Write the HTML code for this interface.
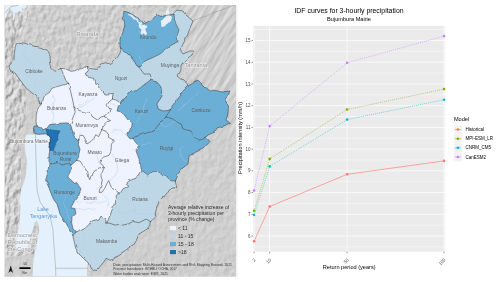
<!DOCTYPE html>
<html lang="en"><head><meta charset="utf-8"><title>IDF curves for 3-hourly precipitation - Bujumbura Mairie</title>
<style>
html,body{margin:0;padding:0;background:#fff;}
body{width:500px;height:282px;overflow:hidden;font-family:"Liberation Sans",sans-serif;}
svg{display:block;will-change:transform;opacity:.9999}
text{font-family:"Liberation Sans",sans-serif}
.pl{font-size:4.85px;fill:#5f5f5f;text-anchor:middle}
.cl{font-size:6.1px;fill:#8f8f8f;stroke:#fff;stroke-width:.9px;paint-order:stroke;stroke-linejoin:round;stroke-opacity:.8}
.ll{font-size:5.4px;fill:#5a9be6;text-anchor:middle}
.lg{font-size:5.05px;fill:#2e2e2e}
.ct{font-size:3.4px;fill:#333}
.ax{font-size:4.5px;fill:#4d4d4d}
.at{font-size:5.6px;fill:#000}
</style></head><body>
<svg width="500" height="282" viewBox="0 0 500 282">
<defs>
<filter id="hs" x="0" y="0" width="100%" height="100%" color-interpolation-filters="sRGB">
<feTurbulence type="fractalNoise" baseFrequency="0.18 0.14" numOctaves="3" seed="7" result="n"/>
<feDiffuseLighting in="n" surfaceScale="0.32" diffuseConstant="1.0" lighting-color="#ececec" result="l"><feDistantLight azimuth="225" elevation="61"/></feDiffuseLighting>
</filter>
<filter id="hsn" x="0" y="0" width="100%" height="100%" color-interpolation-filters="sRGB">
<feTurbulence type="fractalNoise" baseFrequency="0.2 0.16" numOctaves="3" seed="11" result="n"/>
<feDiffuseLighting in="n" surfaceScale="0.62" diffuseConstant="1.0" lighting-color="#ebebeb" result="l"><feDistantLight azimuth="225" elevation="61"/></feDiffuseLighting>
</filter>
<filter id="hs2" x="0" y="0" width="100%" height="100%" color-interpolation-filters="sRGB">
<feTurbulence type="fractalNoise" baseFrequency="0.24 0.13" numOctaves="3" seed="3" result="n"/>
<feDiffuseLighting in="n" surfaceScale="1.35" diffuseConstant="1.0" lighting-color="#ececec" result="l"><feDistantLight azimuth="225" elevation="61"/></feDiffuseLighting>
</filter>
<filter id="hse" x="0" y="0" width="100%" height="100%" color-interpolation-filters="sRGB">
<feTurbulence type="fractalNoise" baseFrequency="0.035 0.2" numOctaves="3" seed="5" result="n"/>
<feDiffuseLighting in="n" surfaceScale="0.55" diffuseConstant="1.0" lighting-color="#ededed" result="l"><feDistantLight azimuth="270" elevation="61"/></feDiffuseLighting>
</filter>
<clipPath id="east"><polygon points="172,4 237,4 237,135 222,140 205,138 200,90 178,60"/></clipPath>
<filter id="jit" x="-5%" y="-5%" width="110%" height="110%" color-interpolation-filters="sRGB">
<feTurbulence type="fractalNoise" baseFrequency="0.11" numOctaves="2" seed="21" result="t"/>
<feDisplacementMap in="SourceGraphic" in2="t" scale="3.2" xChannelSelector="R" yChannelSelector="G"/>
</filter>
<clipPath id="mapclip"><rect x="4.7" y="4.9" width="231.4" height="271.6"/></clipPath>
<clipPath id="west"><polygon points="5,5 30,5 24,30 18,44 12,66 26,90 27,110 24,126 21,134 21,190 19,225 15,246 26,251 36,222 40,232 34,254 5,258"/></clipPath>
<clipPath id="north"><polygon points="24,4 180,4 175,8 122,8 118,52 86,72 60,72 48,48 18,42"/></clipPath>
</defs>
<rect width="500" height="282" fill="#fff"/>
<g clip-path="url(#mapclip)">
<rect x="4" y="4" width="233" height="273" fill="#c9c9c9"/>
<rect x="4" y="4" width="233" height="273" filter="url(#hs)"/>
<g clip-path="url(#east)"><rect x="-200" y="-200" width="800" height="800" filter="url(#hse)" transform="rotate(-58 120 140)"/></g>
<g clip-path="url(#north)"><rect x="4" y="4" width="233" height="273" filter="url(#hsn)"/></g>
<g clip-path="url(#west)"><rect x="4" y="4" width="233" height="273" filter="url(#hs2)"/></g>

<polygon points="5,5 27,5 25.5,8 22,8.5 22,12 19.5,11 17,13 15,12.5 15,16 13.5,20.5 12.5,19 13.5,14 12,10 10,8 8,12 6,17 5,19.5" fill="#e2f0fd"/>
<polyline points="5,13 8,9.5 11,6.5 15,5.8 18.5,5.2" fill="none" stroke="#777" stroke-width=".4"/>
<polygon points="26.0,135.2 27.0,134.5 50.0,134.5 50.0,165.0 75.0,235.0 76.0,248.0 88.0,263.0 87.0,268.3 87.0,276.5 32.6,276.5 33.0,268.0 33.5,260.0 35.0,252.0 36.1,248.0 37.3,242.0 38.5,236.0 39.1,230.0 38.5,224.0 36.3,220.8 34.3,224.0 32.5,230.0 30.7,236.0 29.5,242.0 28.3,248.0 26.0,250.3 21.0,250.5 17.0,249.5 15.2,246.0 16.0,241.0 17.0,236.0 18.0,231.0 19.3,225.0 19.9,218.0 20.5,210.0 20.0,200.0 21.0,190.0 24.0,182.0 26.0,175.0 27.0,160.0 25.0,150.0 24.5,142.0" fill="#e4f1fd"/>
<polyline points="36,126 35.5,140 36,160 37,190 40,202 50,216 53,230 54,246 55.6,268.3 88,268.3" fill="none" stroke="#8c8c8c" stroke-width=".45"/>
<polyline points="55.6,268.3 55.8,276" fill="none" stroke="#8c8c8c" stroke-width=".45"/>
<polyline points="193,21 200,18 207,16 213,12.5 222,10 229,7 236,5" fill="none" stroke="#8c8c8c" stroke-width=".4"/>
<polyline points="16,44 14,38 16,32 13,27 13.5,20.5" fill="none" stroke="#8c8c8c" stroke-width=".4"/>
<g filter="url(#jit)">
<polygon points="60.8,68.3 57.5,70.3 54.8,71.3 51.8,68.3 50.4,62.0 50.0,56.0 47.0,50.0 40.0,47.0 32.0,46.0 26.0,43.6 20.0,42.4 16.0,44.0 14.4,52.0 14.0,60.0 9.0,66.0 10.0,70.0 15.0,73.0 20.0,80.0 26.0,88.0 32.0,93.0 36.0,95.7 38.5,100.0 39.7,104.0 42.5,104.8 43.4,98.0 45.2,95.0 49.4,92.6 51.8,88.4 55.4,87.0 58.4,86.3 64.5,84.5 68.7,83.3 65.7,80.3 63.9,75.5 62.0,70.7" fill="#bdd7e7"/>
<polygon points="68.7,83.3 69.9,89.0 71.0,93.0 73.5,104.0 74.0,107.0 75.2,112.2 72.2,119.5 70.5,124.5 67.8,122.9 58.0,123.4 49.7,124.6 46.0,129.4 42.5,131.0 39.4,127.6 37.0,125.8 36.0,121.0 36.3,116.0 37.3,111.3 38.5,107.0 41.0,104.7 42.5,104.8 43.4,98.0 45.2,95.0 49.4,92.6 51.8,88.4 55.4,87.0 58.4,86.3 64.5,84.5" fill="#eff3ff"/>
<polygon points="60.8,68.3 65.7,68.9 71.0,71.3 74.5,70.8 77.7,69.5 81.5,68.8 85.0,67.0 88.6,67.7 88.0,71.3 85.5,73.0 86.1,75.5 89.8,76.7 93.4,77.3 95.2,82.7 98.2,84.0 99.6,86.0 100.0,88.5 104.0,92.0 105.0,94.0 110.0,93.8 113.5,93.5 112.5,96.0 112.5,99.0 109.0,102.0 107.0,105.0 109.0,108.0 110.5,110.0 108.5,113.0 105.4,116.1 101.0,117.0 97.5,120.0 92.7,117.0 89.0,111.6 85.5,112.2 78.9,110.4 74.0,107.0 73.5,104.0 71.0,93.0 69.9,89.0 68.7,83.3 65.7,80.3 63.9,75.5 62.0,70.7" fill="#eff3ff"/>
<polygon points="88.6,67.7 92.2,68.9 95.8,69.5 98.8,67.0 100.6,64.0 105.4,62.8 110.0,63.8 114.0,61.0 117.0,58.0 119.5,54.0 121.0,51.0 120.5,49.0 125.0,51.5 130.0,56.0 134.0,61.0 137.0,66.0 139.0,67.0 144.0,74.0 150.0,74.0 151.0,77.0 149.5,81.0 145.0,84.0 140.0,88.0 137.0,90.5 132.0,91.5 128.0,94.0 125.5,98.0 122.0,100.0 120.0,103.5 119.0,102.0 116.0,100.0 112.5,99.0 112.5,96.0 113.5,93.5 110.0,93.8 105.0,94.0 104.0,92.0 100.0,88.5 99.6,86.0 98.2,84.0 95.2,82.7 93.4,77.3 89.8,76.7 86.1,75.5 85.5,73.0 88.0,71.3" fill="#bdd7e7"/>
<polygon points="120.5,49.0 120.0,47.0 120.0,39.0 123.0,32.0 125.0,26.0 123.0,17.0 124.0,11.0 130.0,13.0 138.0,18.0 145.0,24.0 153.0,19.0 157.0,14.0 163.0,16.0 174.0,14.0 175.0,22.0 179.0,30.0 177.0,36.0 178.0,41.5 170.0,46.0 160.0,54.0 152.0,58.0 145.0,61.0 139.0,67.0 137.0,66.0 134.0,61.0 130.0,56.0 125.0,51.5" fill="#6baed6"/>
<polygon points="174.0,14.0 177.0,10.0 183.0,11.0 186.0,15.0 193.0,21.0 190.0,28.0 187.0,36.0 183.0,44.0 180.0,50.0 183.0,54.0 190.0,51.0 193.0,51.0 192.0,55.0 185.0,60.0 181.0,65.0 181.0,70.0 178.0,76.0 183.0,80.0 188.0,86.0 183.0,91.0 180.0,96.0 175.0,103.0 170.5,109.5 168.0,110.3 163.0,111.0 158.4,109.0 156.8,104.0 159.5,100.0 162.0,96.0 161.0,87.0 157.0,82.0 152.0,80.5 149.5,81.0 151.0,77.0 150.0,74.0 144.0,74.0 139.0,67.0 145.0,61.0 152.0,58.0 160.0,54.0 170.0,46.0 178.0,41.5 177.0,36.0 179.0,30.0 175.0,22.0" fill="#bdd7e7"/>
<polygon points="120.0,103.5 122.0,100.0 125.5,98.0 128.0,94.0 132.0,91.5 137.0,90.5 140.0,88.0 145.0,84.0 149.5,81.0 152.0,80.5 157.0,82.0 161.0,87.0 162.0,96.0 159.5,100.0 156.8,104.0 158.4,109.0 163.0,111.0 168.0,110.3 170.5,109.5 168.0,113.5 166.0,117.0 160.0,123.0 155.0,129.2 149.0,132.2 143.0,134.0 134.8,137.0 133.0,138.3 130.0,138.9 127.0,135.2 130.0,129.8 131.0,125.0 131.0,123.0 128.0,120.0 122.0,112.0 117.0,111.0 118.0,107.0" fill="#6baed6"/>
<polygon points="188.0,86.0 198.0,80.0 204.0,86.0 210.0,91.0 214.0,90.0 222.0,92.0 230.0,91.0 225.0,100.0 228.5,106.0 228.0,114.0 226.0,120.0 230.0,123.0 224.0,126.0 217.0,128.0 215.0,132.0 208.0,135.0 205.0,138.0 199.0,140.0 194.0,136.0 191.0,131.0 183.0,129.0 181.0,123.0 173.0,119.0 166.0,117.0 168.0,113.5 170.5,109.5 175.0,103.0 180.0,96.0 183.0,91.0" fill="#6baed6"/>
<polygon points="166.0,117.0 173.0,119.0 181.0,123.0 183.0,129.0 191.0,131.0 194.0,136.0 199.0,140.0 205.0,138.0 209.0,142.5 204.0,148.0 196.0,152.0 189.0,156.0 188.0,164.0 183.0,168.0 180.0,169.6 177.8,174.5 175.4,180.0 171.8,181.0 168.2,179.3 165.8,176.3 161.6,175.7 159.0,172.6 156.0,171.4 151.3,172.0 147.7,175.0 144.0,172.0 141.0,170.5 141.0,169.0 140.5,163.0 139.0,159.0 137.8,155.7 136.0,150.9 137.2,148.5 138.4,145.5 136.6,143.7 133.6,139.5 133.0,138.3 134.8,137.0 143.0,134.0 149.0,132.2 155.0,129.2 160.0,123.0" fill="#6baed6"/>
<polygon points="112.5,99.0 116.0,100.0 119.0,102.0 120.0,103.5 118.0,107.0 117.0,111.0 122.0,112.0 128.0,120.0 131.0,123.0 131.0,125.0 130.0,129.8 127.0,135.2 130.0,138.9 133.0,138.3 133.6,139.5 136.6,143.7 138.4,145.5 137.2,148.5 136.0,150.9 137.8,155.7 139.0,159.0 140.5,163.0 141.0,169.0 141.0,170.5 138.3,175.0 135.8,178.4 132.3,179.4 128.4,181.4 125.4,184.4 127.9,186.4 122.9,188.9 120.9,192.3 119.9,194.3 118.4,192.8 116.0,190.4 111.0,187.9 110.0,184.5 108.8,180.6 107.5,182.4 105.0,187.8 102.0,192.2 98.8,192.5 99.6,190.0 101.2,185.0 102.4,179.0 101.8,173.1 104.2,167.7 102.4,165.2 100.0,162.2 100.5,160.1 103.6,157.1 109.0,155.3 110.8,151.7 111.4,145.7 113.2,142.0 112.6,139.6 108.4,137.2 109.0,134.2 106.0,130.3 101.7,128.5 103.6,124.9 106.6,121.9 110.5,120.7 107.2,118.9 105.4,116.1 108.5,113.0 110.5,110.0 109.0,108.0 107.0,105.0 109.0,102.0" fill="#eff3ff"/>
<polygon points="74.0,107.0 78.9,110.4 85.5,112.2 89.0,111.6 92.7,117.0 97.5,120.0 101.0,117.0 105.4,116.1 107.2,118.9 110.5,120.7 106.6,121.9 103.6,124.9 101.7,128.5 100.5,132.4 98.7,136.6 95.7,134.8 93.9,138.4 90.9,141.4 87.3,143.9 85.5,139.6 83.1,135.4 78.9,135.4 78.9,139.6 77.0,140.2 73.4,134.8 72.2,130.0 70.5,124.5 72.2,119.5 75.2,112.2" fill="#eff3ff"/>
<polygon points="78.9,139.6 78.9,135.4 83.1,135.4 85.5,139.6 87.3,143.9 90.9,141.4 93.9,138.4 95.7,134.8 98.7,136.6 100.5,132.4 101.7,128.5 106.0,130.3 109.0,134.2 108.4,137.2 112.6,139.6 113.2,142.0 111.4,145.7 110.8,151.7 109.0,155.3 103.6,157.1 100.5,160.1 100.0,162.2 102.4,165.2 104.2,167.7 100.0,167.7 95.1,169.5 92.1,173.1 89.7,179.7 88.5,176.7 87.9,172.5 86.7,168.9 83.1,165.8 80.0,161.0 76.4,160.4 78.3,157.7 78.9,154.1 80.0,149.3 78.3,144.5" fill="#eff3ff"/>
<polygon points="70.5,124.5 67.8,122.9 58.0,123.4 49.7,124.6 46.0,129.4 42.5,131.0 39.4,127.6 37.0,125.8 34.0,126.4 33.4,128.8 34.0,133.0 37.6,134.3 46.0,133.7 48.5,136.0 50.3,139.7 50.3,145.7 49.7,150.5 49.0,156.0 49.0,163.0 52.0,164.0 58.0,162.4 62.0,165.0 67.0,163.5 71.0,165.0 73.4,163.4 76.4,160.4 78.3,157.7 78.9,154.1 80.0,149.3 78.3,144.5 78.9,139.6 77.0,140.2 73.4,134.8 72.2,130.0" fill="#6baed6"/>
<polygon points="49.0,163.0 52.0,164.0 58.0,162.4 62.0,165.0 67.0,163.5 71.0,165.0 70.4,168.3 68.6,173.1 68.0,177.3 72.2,180.9 74.0,183.3 77.0,182.7 79.5,186.9 81.0,189.0 78.5,195.0 75.0,200.0 71.5,206.5 70.7,207.8 75.0,208.5 75.8,213.0 72.0,216.5 71.7,223.0 73.1,229.0 75.0,233.0 73.0,235.5 71.0,233.0 66.0,224.0 60.0,214.0 57.0,204.0 54.0,200.0 52.0,196.0 49.0,188.0 45.6,180.0 48.0,172.0" fill="#6baed6"/>
<polygon points="76.4,160.4 80.0,161.0 83.1,165.8 86.7,168.9 87.9,172.5 88.5,176.7 89.7,179.7 92.1,173.1 95.1,169.5 100.0,167.7 104.2,167.7 101.8,173.1 102.4,179.0 101.2,185.0 99.6,190.0 98.8,192.5 102.0,192.2 105.0,187.8 107.5,182.4 108.8,180.6 110.0,184.5 111.0,187.9 116.0,190.4 118.4,192.8 117.4,194.3 116.0,195.8 116.3,198.0 114.8,200.0 114.2,204.0 112.4,209.0 110.6,214.0 108.5,219.0 107.0,223.0 105.0,219.0 101.0,216.0 99.0,220.0 92.0,222.0 84.0,229.0 75.0,233.0 73.1,229.0 71.7,223.0 72.0,216.5 75.8,213.0 75.0,208.5 70.7,207.8 71.5,206.5 75.0,200.0 78.5,195.0 81.0,189.0 79.5,186.9 77.0,182.7 74.0,183.3 72.2,180.9 68.0,177.3 68.6,173.1 70.4,168.3 71.0,165.0 73.4,163.4" fill="#eff3ff"/>
<polygon points="141.0,170.5 144.0,172.0 147.7,175.0 151.3,172.0 156.0,171.4 159.0,172.6 161.6,175.7 165.8,176.3 168.2,179.3 171.8,181.0 175.4,180.0 176.0,184.0 176.6,188.3 173.0,187.7 169.4,189.0 166.4,194.0 165.4,195.0 159.4,200.4 157.0,207.0 155.2,213.0 155.8,216.7 152.2,220.3 150.4,221.5 146.0,219.0 142.5,221.0 139.0,222.7 133.0,221.5 128.0,224.0 123.3,225.0 119.6,224.5 114.8,225.0 110.0,223.3 107.0,223.0 108.5,219.0 110.6,214.0 112.4,209.0 114.2,204.0 114.8,200.0 116.3,198.0 116.0,195.8 117.4,194.3 118.4,192.8 119.9,194.3 120.9,192.3 122.9,188.9 127.9,186.4 125.4,184.4 128.4,181.4 132.3,179.4 135.8,178.4 138.3,175.0" fill="#bdd7e7"/>
<polygon points="75.0,233.0 84.0,229.0 92.0,222.0 99.0,220.0 101.0,216.0 105.0,219.0 107.0,223.0 110.0,223.3 114.8,225.0 119.6,224.5 123.3,225.0 128.0,224.0 133.0,221.5 139.0,222.7 142.5,221.0 146.0,219.0 150.4,221.5 149.8,225.0 147.3,229.0 139.0,234.0 136.0,241.0 133.0,246.0 130.0,248.0 124.2,252.3 118.2,255.9 112.8,259.5 109.8,260.1 106.1,258.3 104.3,261.3 103.0,263.0 100.0,266.5 97.0,270.4 94.0,270.0 90.0,267.0 88.0,262.5 83.3,258.3 79.0,254.0 76.0,248.0 74.2,242.0 73.0,235.5" fill="#bdd7e7"/>
<polygon points="46,129.4 48.5,130.6 52,130 56,130.3 60,131 58,134.9 57.5,139 55,142 55.7,144.5 54,147 53.3,150 49.7,150.5 50.3,145.7 50.3,139.7 48.5,136 46.7,133" fill="#2171b5"/>
<polyline points="25.0,46.0 24.0,54.0 28.0,60.0 33.0,64.0 32.0,72.0 36.0,80.0 34.0,88.0" fill="none" stroke="#a9ccef" stroke-width=".45" stroke-linejoin="round" opacity=".9"/>
<polyline points="88.0,100.0 84.0,104.0 80.0,106.0" fill="none" stroke="#a9ccef" stroke-width=".45" stroke-linejoin="round" opacity=".9"/>
<polyline points="96.0,97.0 90.0,101.0 84.0,106.0 78.0,108.0" fill="none" stroke="#a9ccef" stroke-width=".45" stroke-linejoin="round" opacity=".9"/>
<polyline points="107.0,100.0 112.0,104.0 118.0,107.0" fill="none" stroke="#a9ccef" stroke-width=".45" stroke-linejoin="round" opacity=".9"/>
<polyline points="122.0,84.0 123.0,92.0 121.0,98.0" fill="none" stroke="#a9ccef" stroke-width=".45" stroke-linejoin="round" opacity=".9"/>
<polyline points="139.0,56.0 141.0,62.0 140.0,68.0" fill="none" stroke="#a9ccef" stroke-width=".45" stroke-linejoin="round" opacity=".9"/>
<polyline points="147.0,98.0 144.0,106.0 140.0,116.0 136.0,122.0" fill="none" stroke="#a9ccef" stroke-width=".45" stroke-linejoin="round" opacity=".9"/>
<polyline points="198.0,90.0 195.0,96.0 190.0,100.0 184.0,106.0 178.0,110.0" fill="none" stroke="#a9ccef" stroke-width=".45" stroke-linejoin="round" opacity=".9"/>
<polyline points="160.0,124.0 166.0,127.0 172.0,123.0 178.0,120.0" fill="none" stroke="#a9ccef" stroke-width=".45" stroke-linejoin="round" opacity=".9"/>
<polyline points="185.0,146.0 180.0,150.0 181.0,158.0 186.0,162.0" fill="none" stroke="#a9ccef" stroke-width=".45" stroke-linejoin="round" opacity=".9"/>
<polyline points="100.0,148.0 97.0,156.0 99.0,163.0 104.0,166.0" fill="none" stroke="#a9ccef" stroke-width=".45" stroke-linejoin="round" opacity=".9"/>
<polyline points="112.0,154.0 116.0,160.0 118.0,170.0 115.0,176.0 110.0,180.0" fill="none" stroke="#a9ccef" stroke-width=".45" stroke-linejoin="round" opacity=".9"/>
<polyline points="76.0,201.0 80.0,202.5 84.0,201.5 88.0,203.0 93.0,202.0 98.0,203.0 103.0,202.0 107.0,201.5" fill="none" stroke="#a9ccef" stroke-width=".45" stroke-linejoin="round" opacity=".9"/>
<polyline points="75.6,209.0 80.0,208.5 84.0,210.0 89.0,208.5 93.0,209.5 96.0,208.0" fill="none" stroke="#a9ccef" stroke-width=".45" stroke-linejoin="round" opacity=".9"/>
<polyline points="102.0,194.5 106.0,196.0 108.0,199.0 108.8,204.0 107.0,207.0" fill="none" stroke="#a9ccef" stroke-width=".45" stroke-linejoin="round" opacity=".9"/>
<polyline points="125.7,198.6 134.0,204.6 136.0,210.7 138.3,214.3 146.0,215.0 153.4,213.0" fill="none" stroke="#a9ccef" stroke-width=".45" stroke-linejoin="round" opacity=".9"/>
<polyline points="114.8,207.0 120.8,214.3 125.7,213.0 136.0,210.7" fill="none" stroke="#a9ccef" stroke-width=".45" stroke-linejoin="round" opacity=".9"/>
<polyline points="84.0,236.0 84.0,243.0 82.0,249.0 80.0,254.0" fill="none" stroke="#a9ccef" stroke-width=".45" stroke-linejoin="round" opacity=".9"/>
<polyline points="91.0,241.0 87.0,244.0 84.0,247.0" fill="none" stroke="#a9ccef" stroke-width=".45" stroke-linejoin="round" opacity=".9"/>
<polyline points="66.0,196.0 64.0,204.0 66.0,212.0 70.0,220.0" fill="none" stroke="#a9ccef" stroke-width=".45" stroke-linejoin="round" opacity=".9"/>
<polyline points="52.0,124.0 54.0,116.0 52.0,108.0 55.0,100.0 52.0,94.0" fill="none" stroke="#a9ccef" stroke-width=".45" stroke-linejoin="round" opacity=".9"/>
<polyline points="103.0,182.0 99.0,186.0 96.0,190.0" fill="none" stroke="#a9ccef" stroke-width=".45" stroke-linejoin="round" opacity=".9"/>
<polyline points="110.0,134.0 113.0,131.5 116.7,130.4 121.0,131.5 125.0,133.4 127.0,135.0" fill="none" stroke="#a9ccef" stroke-width=".45" stroke-linejoin="round" opacity=".9"/>
<polyline points="139.6,144.9 145.6,144.3 148.6,143.0 151.6,144.9" fill="none" stroke="#a9ccef" stroke-width=".45" stroke-linejoin="round" opacity=".9"/>
<polygon points="127.5,13.5 130,14.5 133,17 135.5,20 134,19.5 131,16.5 128.5,15" fill="#e6f0fb"/>
<polygon points="139,22 141,22.5 143,25 145,24.5 146.5,27 145,30 147,33 145.5,35.5 143.5,33 142,35 140.5,32 141.5,29 140,26" fill="#e6f0fb"/>
<polygon points="166,9.5 168.5,9 169.5,15.5 172,17 171,21 168,24 164,26.5 161.5,27 161,23 163,19 166,16.5" fill="#e6f0fb"/>
<g fill="none" stroke="#e6f0fb" stroke-linecap="round" stroke-linejoin="round"><polyline points="131,14.5 134,17.5 137.5,20.5 140.5,24" stroke-width="1.1"/><polyline points="135.5,15 137,18 138,21" stroke-width=".8"/><polyline points="139.5,18 141,21 142,24.5" stroke-width=".8"/><polyline points="143,27 145.5,31 146,34" stroke-width="1"/></g>
<polyline points="60.8,68.3 57.5,70.3 54.8,71.3 51.8,68.3 50.4,62.0 50.0,56.0 47.0,50.0 40.0,47.0 32.0,46.0 26.0,43.6 20.0,42.4 16.0,44.0 14.4,52.0 14.0,60.0 9.0,66.0 10.0,70.0 15.0,73.0 20.0,80.0 26.0,88.0 32.0,93.0 36.0,95.7 38.5,100.0 39.7,104.0 42.5,104.8" fill="none" stroke="#3c3c3c" stroke-width=".55" stroke-linejoin="round" stroke-linecap="round"/>
<polyline points="60.8,68.3 62.0,70.7 63.9,75.5 65.7,80.3 68.7,83.3" fill="none" stroke="#3c3c3c" stroke-width=".55" stroke-linejoin="round" stroke-linecap="round"/>
<polyline points="68.7,83.3 64.5,84.5 58.4,86.3 55.4,87.0 51.8,88.4 49.4,92.6 45.2,95.0 43.4,98.0 42.5,104.8" fill="none" stroke="#3c3c3c" stroke-width=".55" stroke-linejoin="round" stroke-linecap="round"/>
<polyline points="68.7,83.3 69.9,89.0 71.0,93.0 73.5,104.0 74.0,107.0" fill="none" stroke="#3c3c3c" stroke-width=".55" stroke-linejoin="round" stroke-linecap="round"/>
<polyline points="74.0,107.0 75.2,112.2 72.2,119.5 70.5,124.5" fill="none" stroke="#3c3c3c" stroke-width=".55" stroke-linejoin="round" stroke-linecap="round"/>
<polyline points="70.5,124.5 67.8,122.9 58.0,123.4 49.7,124.6 46.0,129.4 42.5,131.0 39.4,127.6 37.0,125.8" fill="none" stroke="#3c3c3c" stroke-width=".55" stroke-linejoin="round" stroke-linecap="round"/>
<polyline points="42.5,104.8 41.0,104.7 38.5,107.0 37.3,111.3 36.3,116.0 36.0,121.0 37.0,125.8" fill="none" stroke="#3c3c3c" stroke-width=".55" stroke-linejoin="round" stroke-linecap="round"/>
<polyline points="60.8,68.3 65.7,68.9 71.0,71.3 74.5,70.8 77.7,69.5 81.5,68.8 85.0,67.0 88.6,67.7" fill="none" stroke="#3c3c3c" stroke-width=".55" stroke-linejoin="round" stroke-linecap="round"/>
<polyline points="88.6,67.7 88.0,71.3 85.5,73.0 86.1,75.5 89.8,76.7 93.4,77.3 95.2,82.7 98.2,84.0 99.6,86.0 100.0,88.5 104.0,92.0 105.0,94.0 110.0,93.8 113.5,93.5 112.5,96.0 112.5,99.0" fill="none" stroke="#3c3c3c" stroke-width=".55" stroke-linejoin="round" stroke-linecap="round"/>
<polyline points="112.5,99.0 109.0,102.0 107.0,105.0 109.0,108.0 110.5,110.0 108.5,113.0 105.4,116.1" fill="none" stroke="#3c3c3c" stroke-width=".55" stroke-linejoin="round" stroke-linecap="round"/>
<polyline points="74.0,107.0 78.9,110.4 85.5,112.2 89.0,111.6 92.7,117.0 97.5,120.0 101.0,117.0 105.4,116.1" fill="none" stroke="#3c3c3c" stroke-width=".55" stroke-linejoin="round" stroke-linecap="round"/>
<polyline points="105.4,116.1 107.2,118.9 110.5,120.7 106.6,121.9 103.6,124.9 101.7,128.5" fill="none" stroke="#3c3c3c" stroke-width=".55" stroke-linejoin="round" stroke-linecap="round"/>
<polyline points="78.9,139.6 78.9,135.4 83.1,135.4 85.5,139.6 87.3,143.9 90.9,141.4 93.9,138.4 95.7,134.8 98.7,136.6 100.5,132.4 101.7,128.5" fill="none" stroke="#3c3c3c" stroke-width=".55" stroke-linejoin="round" stroke-linecap="round"/>
<polyline points="70.5,124.5 72.2,130.0 73.4,134.8 77.0,140.2 78.9,139.6" fill="none" stroke="#3c3c3c" stroke-width=".55" stroke-linejoin="round" stroke-linecap="round"/>
<polyline points="78.9,139.6 78.3,144.5 80.0,149.3 78.9,154.1 78.3,157.7 76.4,160.4" fill="none" stroke="#3c3c3c" stroke-width=".55" stroke-linejoin="round" stroke-linecap="round"/>
<polyline points="76.4,160.4 73.4,163.4 71.0,165.0" fill="none" stroke="#3c3c3c" stroke-width=".55" stroke-linejoin="round" stroke-linecap="round"/>
<polyline points="49.0,163.0 52.0,164.0 58.0,162.4 62.0,165.0 67.0,163.5 71.0,165.0" fill="none" stroke="#3c3c3c" stroke-width=".55" stroke-linejoin="round" stroke-linecap="round"/>
<polyline points="101.7,128.5 106.0,130.3 109.0,134.2 108.4,137.2 112.6,139.6 113.2,142.0 111.4,145.7 110.8,151.7 109.0,155.3 103.6,157.1 100.5,160.1 100.0,162.2 102.4,165.2 104.2,167.7" fill="none" stroke="#3c3c3c" stroke-width=".55" stroke-linejoin="round" stroke-linecap="round"/>
<polyline points="76.4,160.4 80.0,161.0 83.1,165.8 86.7,168.9 87.9,172.5 88.5,176.7 89.7,179.7 92.1,173.1 95.1,169.5 100.0,167.7 104.2,167.7" fill="none" stroke="#3c3c3c" stroke-width=".55" stroke-linejoin="round" stroke-linecap="round"/>
<polyline points="104.2,167.7 101.8,173.1 102.4,179.0 101.2,185.0 99.6,190.0 98.8,192.5 102.0,192.2 105.0,187.8 107.5,182.4 108.8,180.6 110.0,184.5 111.0,187.9 116.0,190.4 118.4,192.8" fill="none" stroke="#3c3c3c" stroke-width=".55" stroke-linejoin="round" stroke-linecap="round"/>
<polyline points="88.6,67.7 92.2,68.9 95.8,69.5 98.8,67.0 100.6,64.0 105.4,62.8 110.0,63.8 114.0,61.0 117.0,58.0 119.5,54.0 121.0,51.0 120.5,49.0" fill="none" stroke="#3c3c3c" stroke-width=".55" stroke-linejoin="round" stroke-linecap="round"/>
<polyline points="120.5,49.0 125.0,51.5 130.0,56.0 134.0,61.0 137.0,66.0 139.0,67.0" fill="none" stroke="#3c3c3c" stroke-width=".55" stroke-linejoin="round" stroke-linecap="round"/>
<polyline points="139.0,67.0 144.0,74.0 150.0,74.0 151.0,77.0 149.5,81.0" fill="none" stroke="#3c3c3c" stroke-width=".55" stroke-linejoin="round" stroke-linecap="round"/>
<polyline points="120.0,103.5 122.0,100.0 125.5,98.0 128.0,94.0 132.0,91.5 137.0,90.5 140.0,88.0 145.0,84.0 149.5,81.0" fill="none" stroke="#3c3c3c" stroke-width=".55" stroke-linejoin="round" stroke-linecap="round"/>
<polyline points="112.5,99.0 116.0,100.0 119.0,102.0 120.0,103.5" fill="none" stroke="#3c3c3c" stroke-width=".55" stroke-linejoin="round" stroke-linecap="round"/>
<polyline points="120.0,103.5 118.0,107.0 117.0,111.0 122.0,112.0 128.0,120.0 131.0,123.0 131.0,125.0 130.0,129.8 127.0,135.2 130.0,138.9 133.0,138.3" fill="none" stroke="#3c3c3c" stroke-width=".55" stroke-linejoin="round" stroke-linecap="round"/>
<polyline points="133.0,138.3 134.8,137.0 143.0,134.0 149.0,132.2 155.0,129.2 160.0,123.0 166.0,117.0" fill="none" stroke="#3c3c3c" stroke-width=".55" stroke-linejoin="round" stroke-linecap="round"/>
<polyline points="170.5,109.5 168.0,113.5 166.0,117.0" fill="none" stroke="#3c3c3c" stroke-width=".55" stroke-linejoin="round" stroke-linecap="round"/>
<polyline points="149.5,81.0 152.0,80.5 157.0,82.0 161.0,87.0 162.0,96.0 159.5,100.0 156.8,104.0 158.4,109.0 163.0,111.0 168.0,110.3 170.5,109.5" fill="none" stroke="#3c3c3c" stroke-width=".55" stroke-linejoin="round" stroke-linecap="round"/>
<polyline points="188.0,86.0 183.0,91.0 180.0,96.0 175.0,103.0 170.5,109.5" fill="none" stroke="#3c3c3c" stroke-width=".55" stroke-linejoin="round" stroke-linecap="round"/>
<polyline points="174.0,14.0 175.0,22.0 179.0,30.0 177.0,36.0 178.0,41.5 170.0,46.0 160.0,54.0 152.0,58.0 145.0,61.0 139.0,67.0" fill="none" stroke="#3c3c3c" stroke-width=".55" stroke-linejoin="round" stroke-linecap="round"/>
<polyline points="120.5,49.0 120.0,47.0 120.0,39.0 123.0,32.0 125.0,26.0 123.0,17.0 124.0,11.0 130.0,13.0 138.0,18.0 145.0,24.0 153.0,19.0 157.0,14.0 163.0,16.0 174.0,14.0" fill="none" stroke="#3c3c3c" stroke-width=".55" stroke-linejoin="round" stroke-linecap="round"/>
<polyline points="174.0,14.0 177.0,10.0 183.0,11.0 186.0,15.0 193.0,21.0 190.0,28.0 187.0,36.0 183.0,44.0 180.0,50.0 183.0,54.0 190.0,51.0 193.0,51.0 192.0,55.0 185.0,60.0 181.0,65.0 181.0,70.0 178.0,76.0 183.0,80.0 188.0,86.0" fill="none" stroke="#3c3c3c" stroke-width=".55" stroke-linejoin="round" stroke-linecap="round"/>
<polyline points="188.0,86.0 198.0,80.0 204.0,86.0 210.0,91.0 214.0,90.0 222.0,92.0 230.0,91.0 225.0,100.0 228.5,106.0 228.0,114.0 226.0,120.0 230.0,123.0 224.0,126.0 217.0,128.0 215.0,132.0 208.0,135.0 205.0,138.0" fill="none" stroke="#3c3c3c" stroke-width=".55" stroke-linejoin="round" stroke-linecap="round"/>
<polyline points="166.0,117.0 173.0,119.0 181.0,123.0 183.0,129.0 191.0,131.0 194.0,136.0 199.0,140.0 205.0,138.0" fill="none" stroke="#3c3c3c" stroke-width=".55" stroke-linejoin="round" stroke-linecap="round"/>
<polyline points="205.0,138.0 209.0,142.5 204.0,148.0 196.0,152.0 189.0,156.0 188.0,164.0 183.0,168.0 180.0,169.6 177.8,174.5 175.4,180.0" fill="none" stroke="#3c3c3c" stroke-width=".55" stroke-linejoin="round" stroke-linecap="round"/>
<polyline points="141.0,170.5 144.0,172.0 147.7,175.0 151.3,172.0 156.0,171.4 159.0,172.6 161.6,175.7 165.8,176.3 168.2,179.3 171.8,181.0 175.4,180.0" fill="none" stroke="#3c3c3c" stroke-width=".55" stroke-linejoin="round" stroke-linecap="round"/>
<polyline points="133.0,138.3 133.6,139.5 136.6,143.7 138.4,145.5 137.2,148.5 136.0,150.9 137.8,155.7 139.0,159.0 140.5,163.0 141.0,169.0 141.0,170.5" fill="none" stroke="#3c3c3c" stroke-width=".55" stroke-linejoin="round" stroke-linecap="round"/>
<polyline points="141.0,170.5 138.3,175.0 135.8,178.4 132.3,179.4 128.4,181.4 125.4,184.4 127.9,186.4 122.9,188.9 120.9,192.3 119.9,194.3 118.4,192.8" fill="none" stroke="#3c3c3c" stroke-width=".55" stroke-linejoin="round" stroke-linecap="round"/>
<polyline points="118.4,192.8 117.4,194.3 116.0,195.8 116.3,198.0 114.8,200.0 114.2,204.0 112.4,209.0 110.6,214.0 108.5,219.0 107.0,223.0" fill="none" stroke="#3c3c3c" stroke-width=".55" stroke-linejoin="round" stroke-linecap="round"/>
<polyline points="107.0,223.0 110.0,223.3 114.8,225.0 119.6,224.5 123.3,225.0 128.0,224.0 133.0,221.5 139.0,222.7 142.5,221.0 146.0,219.0 150.4,221.5" fill="none" stroke="#3c3c3c" stroke-width=".55" stroke-linejoin="round" stroke-linecap="round"/>
<polyline points="175.4,180.0 176.0,184.0 176.6,188.3 173.0,187.7 169.4,189.0 166.4,194.0 165.4,195.0 159.4,200.4 157.0,207.0 155.2,213.0 155.8,216.7 152.2,220.3 150.4,221.5" fill="none" stroke="#3c3c3c" stroke-width=".55" stroke-linejoin="round" stroke-linecap="round"/>
<polyline points="75.0,233.0 84.0,229.0 92.0,222.0 99.0,220.0 101.0,216.0 105.0,219.0 107.0,223.0" fill="none" stroke="#3c3c3c" stroke-width=".55" stroke-linejoin="round" stroke-linecap="round"/>
<polyline points="71.0,165.0 70.4,168.3 68.6,173.1 68.0,177.3 72.2,180.9 74.0,183.3 77.0,182.7 79.5,186.9 81.0,189.0 78.5,195.0 75.0,200.0 71.5,206.5 70.7,207.8 75.0,208.5 75.8,213.0 72.0,216.5 71.7,223.0 73.1,229.0 75.0,233.0" fill="none" stroke="#3c3c3c" stroke-width=".55" stroke-linejoin="round" stroke-linecap="round"/>
<polyline points="75.0,233.0 73.0,235.5" fill="none" stroke="#3c3c3c" stroke-width=".55" stroke-linejoin="round" stroke-linecap="round"/>
<polyline points="49.0,163.0 48.0,172.0 45.6,180.0 49.0,188.0 52.0,196.0 54.0,200.0 57.0,204.0 60.0,214.0 66.0,224.0 71.0,233.0 73.0,235.5" fill="none" stroke="#3c3c3c" stroke-width=".55" stroke-linejoin="round" stroke-linecap="round"/>
<polyline points="150.4,221.5 149.8,225.0 147.3,229.0 139.0,234.0 136.0,241.0 133.0,246.0 130.0,248.0 124.2,252.3 118.2,255.9 112.8,259.5 109.8,260.1 106.1,258.3 104.3,261.3 103.0,263.0 100.0,266.5 97.0,270.4 94.0,270.0 90.0,267.0 88.0,262.5 83.3,258.3 79.0,254.0 76.0,248.0 74.2,242.0 73.0,235.5" fill="none" stroke="#3c3c3c" stroke-width=".55" stroke-linejoin="round" stroke-linecap="round"/>
<polyline points="37.0,125.8 34.0,126.4 33.4,128.8 34.0,133.0 37.6,134.3 46.0,133.7 48.5,136.0 50.3,139.7 50.3,145.7 49.7,150.5 49.0,156.0 49.0,163.0" fill="none" stroke="#3c3c3c" stroke-width=".55" stroke-linejoin="round" stroke-linecap="round"/>
<polygon points="46,129.4 48.5,130.6 52,130 56,130.3 60,131 58,134.9 57.5,139 55,142 55.7,144.5 54,147 53.3,150 49.7,150.5 50.3,145.7 50.3,139.7 48.5,136 46.7,133" fill="none" stroke="#2b4a6b" stroke-width=".5"/>
</g>
<text class="pl" x="34.0" y="72.6">Cibitoke</text>
<text class="pl" x="56.5" y="109.6">Bubanza</text>
<text class="pl" x="88.0" y="95.6">Kayanza</text>
<text class="pl" x="121.0" y="79.6">Ngozi</text>
<text class="pl" x="148.0" y="38.6">Kirundo</text>
<text class="pl" x="170.0" y="67.2">Muyinga</text>
<text class="pl" x="141.5" y="113.2">Karuzi</text>
<text class="pl" x="201.0" y="111.6">Cankuzo</text>
<text class="pl" x="86.7" y="127.3">Muramvya</text>
<text class="pl" x="94.8" y="153.6">Mwaro</text>
<text class="pl" x="122.0" y="162.0">Gitega</text>
<text class="pl" x="166.5" y="149.6">Ruyigi</text>
<text class="pl" x="65.0" y="154.6">Bujumbura</text>
<text class="pl" x="65.5" y="160.6">Rural</text>
<text class="pl" x="64.5" y="193.6">Rumonge</text>
<text class="pl" x="90.0" y="199.6">Bururi</text>
<text class="pl" x="140.0" y="200.6">Rutana</text>
<text class="pl" x="106.6" y="242.6">Makamba</text>
<text class="pl" x="29" y="142.6" style="fill:#6a6a6a;stroke:#fff;stroke-width:.8px;paint-order:stroke;stroke-opacity:.7">Bujumbura Mairie</text>
<text class="cl" x="76.3" y="36" textLength="22.2" lengthAdjust="spacingAndGlyphs">Rwanda</text>
<text class="cl" x="184.5" y="67.2" textLength="22.7" lengthAdjust="spacingAndGlyphs">Tanzania</text>
<text class="cl" x="7.8" y="236.9" textLength="29" lengthAdjust="spacingAndGlyphs">Democratic</text>
<text class="cl" x="7.8" y="243.9" textLength="29.5" lengthAdjust="spacingAndGlyphs">Republic of</text>
<text class="cl" x="7.8" y="251.2" textLength="26" lengthAdjust="spacingAndGlyphs">the Congo</text>
<text class="ll" x="43" y="211.2">Lake</text>
<text class="ll" x="43.3" y="217.5">Tanganyika</text>
<text class="lg" x="168" y="208.7" textLength="61" lengthAdjust="spacingAndGlyphs">Average relative increase of</text>
<text class="lg" x="168" y="214.9" textLength="56" lengthAdjust="spacingAndGlyphs">3-hourly precipitation per</text>
<text class="lg" x="168" y="221.3" textLength="46.4" lengthAdjust="spacingAndGlyphs">province (% change)</text>
<rect x="170" y="226.0" width="6" height="4.2" fill="#eff3ff"/>
<text class="lg" x="178" y="229.8">&lt; 11</text>
<rect x="170" y="234.0" width="6" height="4.2" fill="#bdd7e7"/>
<text class="lg" x="178" y="237.8">11 - 15</text>
<rect x="170" y="242.0" width="6" height="4.2" fill="#6baed6"/>
<text class="lg" x="178" y="245.8">15 - 18</text>
<rect x="170" y="250.0" width="6" height="4.2" fill="#2171b5"/>
<text class="lg" x="178" y="253.8">&gt;18</text>
<text class="ct" x="113.3" y="266.1" textLength="118.7" lengthAdjust="spacingAndGlyphs">Data: precipitation: Multi-Hazard Assessment and Risk Mapping Burundi, 2021</text>
<text class="ct" x="113.3" y="270.4" textLength="63.6" lengthAdjust="spacingAndGlyphs">Province boundaries: ISTEBU, OCHA, 2017</text>
<text class="ct" x="113.3" y="274.7" textLength="54.6" lengthAdjust="spacingAndGlyphs">Water bodies and rivers: ESRI, 2021</text>
<polygon points="10.7,265.6 13.1,272.9 10.7,271.1 8.4,272.9" fill="#1a1a1a"/>
<rect x="19.4" y="267.2" width="11.2" height="1.9" rx=".6" fill="#000"/>
<text x="25.3" y="265.2" font-size="3.3" fill="#333" text-anchor="middle">50</text>
<text x="24.9" y="273.9" font-size="3.3" fill="#333" text-anchor="middle">Km</text>
</g>
<rect x="236.1" y="4.9" width="1.3" height="271.6" fill="#f1f1f1"/>
<rect x="253.1" y="25.9" width="192.0" height="225.8" fill="#ebebeb"/>
<g stroke="#fff" fill="none">
<line x1="253.1" x2="445.1" y1="246.90" y2="246.90" stroke-width=".4"/>
<line x1="253.1" x2="445.1" y1="225.17" y2="225.17" stroke-width=".4"/>
<line x1="253.1" x2="445.1" y1="203.44" y2="203.44" stroke-width=".4"/>
<line x1="253.1" x2="445.1" y1="181.71" y2="181.71" stroke-width=".4"/>
<line x1="253.1" x2="445.1" y1="159.98" y2="159.98" stroke-width=".4"/>
<line x1="253.1" x2="445.1" y1="138.25" y2="138.25" stroke-width=".4"/>
<line x1="253.1" x2="445.1" y1="116.52" y2="116.52" stroke-width=".4"/>
<line x1="253.1" x2="445.1" y1="94.79" y2="94.79" stroke-width=".4"/>
<line x1="253.1" x2="445.1" y1="73.06" y2="73.06" stroke-width=".4"/>
<line x1="253.1" x2="445.1" y1="51.33" y2="51.33" stroke-width=".4"/>
<line x1="253.1" x2="445.1" y1="29.59" y2="29.59" stroke-width=".4"/>
<line x1="253.1" x2="445.1" y1="236.03" y2="236.03" stroke-width=".7"/>
<line x1="253.1" x2="445.1" y1="214.30" y2="214.30" stroke-width=".7"/>
<line x1="253.1" x2="445.1" y1="192.57" y2="192.57" stroke-width=".7"/>
<line x1="253.1" x2="445.1" y1="170.84" y2="170.84" stroke-width=".7"/>
<line x1="253.1" x2="445.1" y1="149.11" y2="149.11" stroke-width=".7"/>
<line x1="253.1" x2="445.1" y1="127.38" y2="127.38" stroke-width=".7"/>
<line x1="253.1" x2="445.1" y1="105.65" y2="105.65" stroke-width=".7"/>
<line x1="253.1" x2="445.1" y1="83.92" y2="83.92" stroke-width=".7"/>
<line x1="253.1" x2="445.1" y1="62.19" y2="62.19" stroke-width=".7"/>
<line x1="253.1" x2="445.1" y1="40.46" y2="40.46" stroke-width=".7"/>
<line y1="25.9" y2="251.7" x1="254.10" x2="254.10" stroke-width=".7"/>
<line y1="25.9" y2="251.7" x1="269.60" x2="269.60" stroke-width=".7"/>
<line y1="25.9" y2="251.7" x1="347.11" x2="347.11" stroke-width=".7"/>
<line y1="25.9" y2="251.7" x1="444.00" x2="444.00" stroke-width=".7"/>
</g>
<polyline points="254.1,241.3 269.7,206.5 347.1,174.3 444.0,160.9" fill="none" stroke="#f8766d" stroke-width=".6"/>
<circle cx="254.1" cy="241.3" r="1.3" fill="#f8766d"/>
<circle cx="269.7" cy="206.5" r="1.3" fill="#f8766d"/>
<circle cx="347.1" cy="174.3" r="1.3" fill="#f8766d"/>
<circle cx="444.0" cy="160.9" r="1.3" fill="#f8766d"/>
<polyline points="254.1,210.8 269.7,158.9 347.1,109.5 444.0,89.1" fill="none" stroke="#7cae00" stroke-width=".7" stroke-dasharray="0.8 1.2" opacity=".9"/>
<circle cx="254.1" cy="210.8" r="1.3" fill="#7cae00"/>
<circle cx="269.7" cy="158.9" r="1.3" fill="#7cae00"/>
<circle cx="347.1" cy="109.5" r="1.3" fill="#7cae00"/>
<circle cx="444.0" cy="89.1" r="1.3" fill="#7cae00"/>
<polyline points="254.1,215.0 269.7,166.4 347.1,119.6 444.0,99.7" fill="none" stroke="#00bfc4" stroke-width=".7" stroke-dasharray="0.8 1.2" opacity=".9"/>
<circle cx="254.1" cy="215.0" r="1.3" fill="#00bfc4"/>
<circle cx="269.7" cy="166.4" r="1.3" fill="#00bfc4"/>
<circle cx="347.1" cy="119.6" r="1.3" fill="#00bfc4"/>
<circle cx="444.0" cy="99.7" r="1.3" fill="#00bfc4"/>
<polyline points="254.1,190.5 269.7,126.1 347.1,62.8 444.0,36.1" fill="none" stroke="#c77cff" stroke-width=".7" stroke-dasharray="0.8 1.2" opacity=".9"/>
<circle cx="254.1" cy="190.5" r="1.3" fill="#c77cff"/>
<circle cx="269.7" cy="126.1" r="1.3" fill="#c77cff"/>
<circle cx="347.1" cy="62.8" r="1.3" fill="#c77cff"/>
<circle cx="444.0" cy="36.1" r="1.3" fill="#c77cff"/>
<line x1="251.5" x2="253.1" y1="236.03" y2="236.03" stroke="#333" stroke-width=".5"/>
<text class="ax" x="250.5" y="237.63" text-anchor="end">6</text>
<line x1="251.5" x2="253.1" y1="214.30" y2="214.30" stroke="#333" stroke-width=".5"/>
<text class="ax" x="250.5" y="215.90" text-anchor="end">7</text>
<line x1="251.5" x2="253.1" y1="192.57" y2="192.57" stroke="#333" stroke-width=".5"/>
<text class="ax" x="250.5" y="194.17" text-anchor="end">8</text>
<line x1="251.5" x2="253.1" y1="170.84" y2="170.84" stroke="#333" stroke-width=".5"/>
<text class="ax" x="250.5" y="172.44" text-anchor="end">9</text>
<line x1="251.5" x2="253.1" y1="149.11" y2="149.11" stroke="#333" stroke-width=".5"/>
<text class="ax" x="250.5" y="150.71" text-anchor="end">10</text>
<line x1="251.5" x2="253.1" y1="127.38" y2="127.38" stroke="#333" stroke-width=".5"/>
<text class="ax" x="250.5" y="128.98" text-anchor="end">11</text>
<line x1="251.5" x2="253.1" y1="105.65" y2="105.65" stroke="#333" stroke-width=".5"/>
<text class="ax" x="250.5" y="107.25" text-anchor="end">12</text>
<line x1="251.5" x2="253.1" y1="83.92" y2="83.92" stroke="#333" stroke-width=".5"/>
<text class="ax" x="250.5" y="85.52" text-anchor="end">13</text>
<line x1="251.5" x2="253.1" y1="62.19" y2="62.19" stroke="#333" stroke-width=".5"/>
<text class="ax" x="250.5" y="63.79" text-anchor="end">14</text>
<line x1="251.5" x2="253.1" y1="40.46" y2="40.46" stroke="#333" stroke-width=".5"/>
<text class="ax" x="250.5" y="42.06" text-anchor="end">15</text>
<line y1="251.7" y2="253.3" x1="254.10" x2="254.10" stroke="#333" stroke-width=".5"/>
<text class="ax" text-anchor="end" transform="translate(256.00,260.3) rotate(-45)" x="0" y="0">2</text>
<line y1="251.7" y2="253.3" x1="269.60" x2="269.60" stroke="#333" stroke-width=".5"/>
<text class="ax" text-anchor="end" transform="translate(271.50,260.3) rotate(-45)" x="0" y="0">10</text>
<line y1="251.7" y2="253.3" x1="347.11" x2="347.11" stroke="#333" stroke-width=".5"/>
<text class="ax" text-anchor="end" transform="translate(349.01,260.3) rotate(-45)" x="0" y="0">50</text>
<line y1="251.7" y2="253.3" x1="444.00" x2="444.00" stroke="#333" stroke-width=".5"/>
<text class="ax" text-anchor="end" transform="translate(445.90,260.3) rotate(-45)" x="0" y="0">100</text>
<text x="349" y="12.8" text-anchor="middle" font-size="6.9" fill="#000">IDF curves for 3-hourly precipitation</text>
<text class="at" x="349" y="21.2" text-anchor="middle">Bujumbura Mairie</text>
<text class="at" x="349.2" y="269" text-anchor="middle">Return period (years)</text>
<text class="at" text-anchor="middle" transform="translate(242.2,138) rotate(-90)">Precipitation intensity (mm/h)</text>
<text class="at" x="453.9" y="121.2">Model</text>
<rect x="453.9" y="125.00" width="8" height="9.15" fill="#f2f2f2"/>
<line x1="454.7" x2="461.1" y1="129.57" y2="129.57" stroke="#f8766d" stroke-width=".6"/>
<circle cx="457.9" cy="129.57" r="1.3" fill="#f8766d"/>
<text class="ax" x="465.6" y="131.17" fill="#000" style="fill:#000">Historical</text>
<rect x="453.9" y="134.15" width="8" height="9.15" fill="#f2f2f2"/>
<line x1="454.7" x2="461.1" y1="138.72" y2="138.72" stroke="#7cae00" stroke-width=".6" opacity=".85"/>
<circle cx="457.9" cy="138.72" r="1.3" fill="#7cae00"/>
<text class="ax" x="465.6" y="140.32" fill="#000" style="fill:#000">MPI-ESM_LR</text>
<rect x="453.9" y="143.30" width="8" height="9.15" fill="#f2f2f2"/>
<line x1="454.7" x2="461.1" y1="147.87" y2="147.87" stroke="#00bfc4" stroke-width=".6" opacity=".85"/>
<circle cx="457.9" cy="147.87" r="1.3" fill="#00bfc4"/>
<text class="ax" x="465.6" y="149.47" fill="#000" style="fill:#000">CNRM_CM5</text>
<rect x="453.9" y="152.45" width="8" height="9.15" fill="#f2f2f2"/>
<line x1="454.7" x2="461.1" y1="157.02" y2="157.02" stroke="#c77cff" stroke-width=".6" opacity=".85"/>
<circle cx="457.9" cy="157.02" r="1.3" fill="#c77cff"/>
<text class="ax" x="465.6" y="158.62" fill="#000" style="fill:#000">CanESM2</text>
</svg></body></html>
